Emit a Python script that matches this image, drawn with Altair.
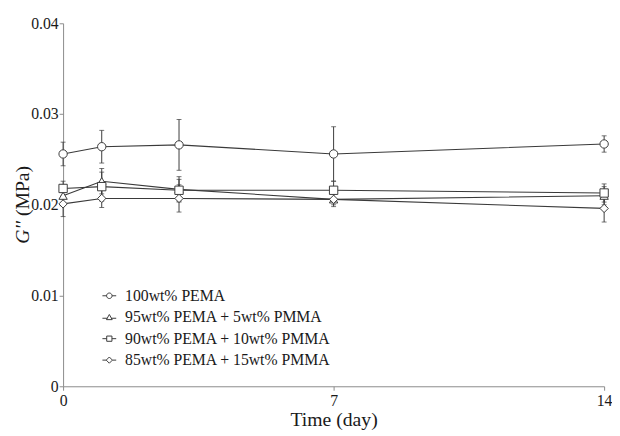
import altair as alt
import pandas as pd

# ---- data ----
days = [0, 1, 3, 7, 14]
series_names = [
    "100wt% PEMA",
    "95wt% PEMA + 5wt% PMMA",
    "90wt% PEMA + 10wt% PMMA",
    "85wt% PEMA + 15wt% PMMA",
]
pema100 = [0.0256, 0.0264, 0.0266, 0.0256, 0.0267]
pema100_err = [0.0013, 0.0018, 0.0028, 0.0030, 0.0009]
pmma5 = [0.0210, 0.0226, 0.0217, 0.0206, 0.0210]
pmma5_err = [0.0008, 0.0014, 0.0014, 0.0006, 0.0010]
pmma10 = [0.0218, 0.0220, 0.0216, 0.0216, 0.0213]
pmma10_err = [0.0008, 0.0016, 0.0012, 0.0010, 0.0010]
pmma15 = [0.0201, 0.0207, 0.0207, 0.0206, 0.0196]
pmma15_err = [0.0014, 0.0010, 0.0015, 0.0008, 0.0015]

y_ticks = [0, 0.01, 0.02, 0.03, 0.04]
x_ticks = [0, 7, 14]

marker_shapes = ["circle", "triangle-up", "square", "diamond"]
legend_shapes = [
    "M-1,0H-0.4M0.4,0H1M-0.4,0A0.4,0.4,0,1,1,0.4,0A0.4,0.4,0,1,1,-0.4,0",
    "M-1,0.15H-0.3M0.3,0.15H1M0,-0.4L0.42,0.35L-0.42,0.35Z",
    "M-1,0H-0.38M0.38,0H1M-0.38,-0.38H0.38V0.38H-0.38Z",
    "M-1,0H-0.45M0.45,0H1M0,-0.45L0.45,0L0,0.45L-0.45,0Z",
]

rows = []
for name, vals, errs in zip(
    series_names,
    [pema100, pmma5, pmma10, pmma15],
    [pema100_err, pmma5_err, pmma10_err, pmma15_err],
):
    for d, v, e in zip(days, vals, errs):
        rows.append({"series": name, "day": d, "g": v, "lo": v - e, "hi": v + e})
df = pd.DataFrame(rows)

INK = "#3a3a3a"
FONT = "'Liberation Serif', 'Times New Roman', Times, serif"

x = alt.X(
    "day:Q",
    scale=alt.Scale(domain=[0, 14], nice=False, zero=False),
    axis=alt.Axis(values=x_ticks, title="Time (day)", grid=False, labelFlush=False,
                  tickSize=4, labelPadding=3, titlePadding=1, titleFontSize=20,
                  titleFontWeight="normal", labelFontSize=16),
)
y = alt.Y(
    "g:Q",
    scale=alt.Scale(domain=[0, 0.04], nice=False),
    axis=alt.Axis(values=y_ticks, format="~g", title=None, grid=False, labelFlush=False,
                  tickSize=4, labelPadding=1, labelFontSize=16),
)

base = alt.Chart(df)

lines = base.mark_line(color=INK, strokeWidth=1.1).encode(x=x, y=y, detail="series:N")
err = base.mark_rule(color=INK, strokeWidth=1).encode(x=x, y=alt.Y("lo:Q"), y2="hi:Q")
cap_hi = base.mark_tick(color=INK, orient="horizontal", size=5, thickness=1).encode(x=x, y=alt.Y("hi:Q"))
cap_lo = base.mark_tick(color=INK, orient="horizontal", size=5, thickness=1).encode(x=x, y=alt.Y("lo:Q"))
points = base.mark_point(filled=True, fill="white", stroke=INK, strokeWidth=1, size=72, opacity=1).encode(
    x=x, y=y,
    shape=alt.Shape("series:N", scale=alt.Scale(domain=series_names, range=marker_shapes), legend=None),
)

legend_layer = base.mark_point(filled=False, color=INK, strokeWidth=1, size=196, opacity=1).encode(
    x=x, y=y,
    shape=alt.Shape(
        "series:N",
        scale=alt.Scale(domain=series_names, range=legend_shapes),
        legend=alt.Legend(
            title=None, orient="none", legendX=39, legendY=269, symbolSize=196,
            symbolStrokeWidth=1, symbolStrokeColor=INK, symbolFillColor="transparent",
            labelFont=FONT, labelFontSize=16, labelColor="#1a1a1a", labelOffset=8,
            rowPadding=5.8, labelLimit=400,
        ),
    ),
).transform_filter("datum.day < 0")

title_g = alt.Chart(pd.DataFrame({"t": ["G''"]})).mark_text(
    font=FONT, fontSize=20, fontStyle="italic", angle=270, align="right", baseline="middle", color="#1a1a1a"
).encode(text="t:N", x=alt.value(-41), y=alt.value(201))
title_u = alt.Chart(pd.DataFrame({"t": ["(MPa)"]})).mark_text(
    font=FONT, fontSize=20, angle=270, align="left", baseline="middle", color="#1a1a1a"
).encode(text="t:N", x=alt.value(-41), y=alt.value(196))

chart = (
    alt.layer(lines, err, cap_hi, cap_lo, points, legend_layer, title_g, title_u)
    .resolve_scale(shape="independent")
    .resolve_legend(shape="independent")
    .properties(
        width=550, height=369,
        autosize=alt.AutoSizeParams(type="none"),
        padding={"left": 56, "top": 12, "right": 8, "bottom": 47},
    )
    .configure_view(stroke=None)
    .configure_axis(
        domainColor="#8a8a8a", tickColor="#8a8a8a", labelColor="#1a1a1a", titleColor="#1a1a1a",
        labelFont=FONT, titleFont=FONT, labelOverlap=False,
    )
    .configure_legend(labelFont=FONT)
    .configure_text(font=FONT)
)

chart.save("out.html", embed_options={"renderer": "svg", "actions": False})
